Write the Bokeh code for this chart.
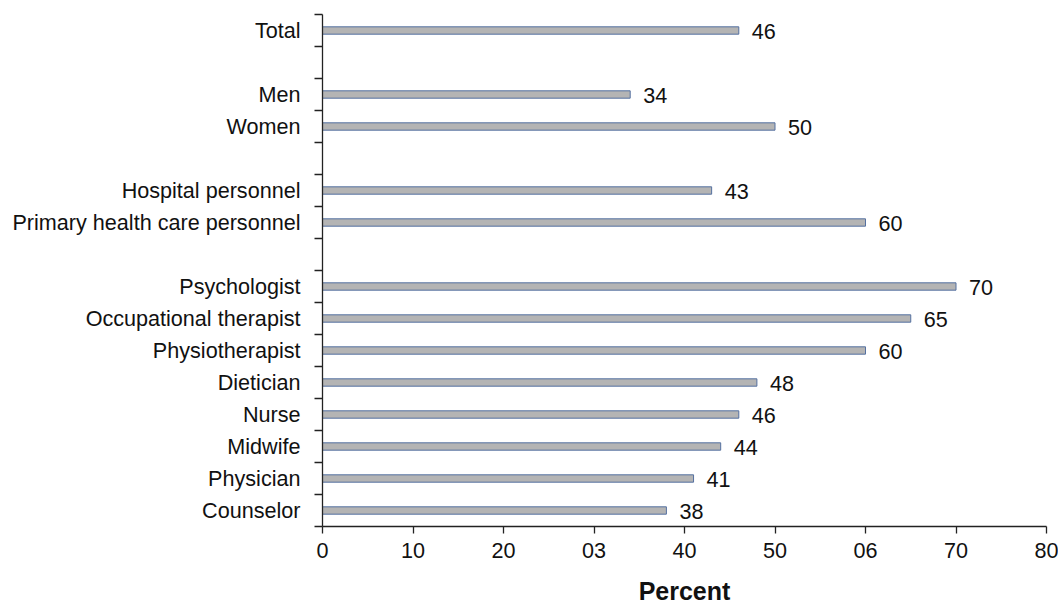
from bokeh.plotting import figure
from bokeh.models import Range1d, FixedTicker, ColumnDataSource
from bokeh.embed import file_html
from bokeh.resources import INLINE
from bokeh.core.properties import value

categories = ["Total", "Men", "Women", "Hospital personnel",
              "Primary health care personnel", "Psychologist",
              "Occupational therapist", "Physiotherapist", "Dietician",
              "Nurse", "Midwife", "Physician", "Counselor"]
values = [46, 34, 50, 43, 60, 70, 65, 60, 48, 46, 44, 41, 38]
group_sizes = [1, 2, 2, 8]
x_ticks = [0, 10, 20, 30, 40, 50, 60, 70, 80]
x_tick_labels = ["0", "10", "20", "03", "40", "50", "06", "70", "80"]

# slot positions (one empty slot between groups)
pos = []
slot = 0
for gi, n in enumerate(group_sizes):
    for _ in range(n):
        pos.append(slot)
        slot += 1
    if gi < len(group_sizes) - 1:
        slot += 1
n_slots = slot

FONT = "Liberation Sans"
W, H = 1058, 607

p = figure(width=W, height=H, output_backend="svg", toolbar_location=None,
           x_range=Range1d(0, 80), y_range=Range1d(n_slots - 0.5, -0.5),
           min_border_left=322, min_border_right=12, min_border_top=14,
           min_border_bottom=79)
p.outline_line_color = None
p.xgrid.visible = False
p.ygrid.visible = False
p.background_fill_color = "white"
p.border_fill_color = "white"

src = ColumnDataSource(dict(y=pos, v=values, lab=[str(v) for v in values], cat=categories))
p.hbar(y="y", left=0, right="v", height=0.23, source=src,
       fill_color="#b4b4b4", line_color="#5470a0", line_width=1)
p.text(x="v", y="y", text="lab", source=src, x_offset=13, y_offset=1,
       text_align="left", text_baseline="middle",
       text_font=value(FONT), text_font_size="21.6px", text_color="#111111")

# y axis
ya = p.yaxis[0]
ya.ticker = FixedTicker(ticks=pos, minor_ticks=[i - 0.5 for i in range(n_slots + 1)])
ya.major_label_overrides = {pp: c for pp, c in zip(pos, categories)}
ya.major_tick_line_color = None
ya.major_tick_out = 0
ya.major_tick_in = 0
ya.minor_tick_out = 8
ya.minor_tick_in = 0
ya.minor_tick_line_color = "#222222"
ya.minor_tick_line_width = 1.3
ya.axis_line_color = "#222222"
ya.axis_line_width = 1.3
ya.major_label_standoff = 14
ya.major_label_text_font = FONT
ya.major_label_text_font_size = "21.6px"
ya.major_label_text_color = "#111111"

# x axis
xa = p.xaxis[0]
xa.ticker = FixedTicker(ticks=x_ticks)
xa.major_label_overrides = {t: l for t, l in zip(x_ticks, x_tick_labels)}
xa.minor_tick_line_color = None
xa.major_tick_out = 7
xa.major_tick_in = 0
xa.major_tick_line_color = "#222222"
xa.major_tick_line_width = 1.3
xa.axis_line_color = "#222222"
xa.axis_line_width = 1.3
xa.major_label_standoff = 9
xa.major_label_text_font = FONT
xa.major_label_text_font_size = "21.6px"
xa.major_label_text_color = "#111111"
xa.axis_label = "Percent"
xa.axis_label_text_font = FONT
xa.axis_label_text_font_style = "bold"
xa.axis_label_text_font_size = "25px"
xa.axis_label_text_color = "#111111"
xa.axis_label_standoff = 16

open("out.html", "w").write(file_html(p, INLINE))
